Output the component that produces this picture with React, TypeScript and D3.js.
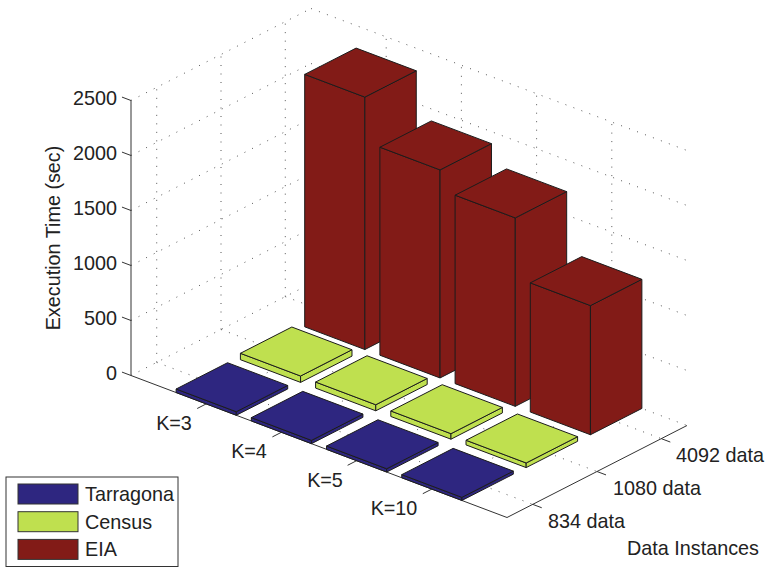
import React from "react";
import * as d3 from "d3";

const kLabels = ["K=3", "K=4", "K=5", "K=10"];
const dataLabels = ["834 data", "1080 data", "4092 data"];
const seriesNames = ["Tarragona", "Census", "EIA"];
const seriesColors = ["#2e2680", "#bfe04f", "#821b17"];

const tarragona = [32, 30, 30, 28];
const census = [58, 55, 50, 42];
const eia = [2295, 1891, 1713, 1174];
const seriesValues = [tarragona, census, eia];

const zTicks = [0, 500, 1000, 1500, 2000, 2500];
const barWidth = 0.8;
const font = "'Liberation Sans', Arial, sans-serif";
const ink = "#222";

// oblique projection: every axis is a screen vector added to the floor corner
const origin: [number, number] = [131, 375.5];
const xDx = d3.scaleLinear().domain([0, 5]).range([0, 376]);
const xDy = d3.scaleLinear().domain([0, 5]).range([0, 142]);
const yDx = d3.scaleLinear().domain([0.6, 3.4]).range([0, 180]);
const yDy = d3.scaleLinear().domain([0.6, 3.4]).range([0, -92]);
const zDy = d3.scaleLinear().domain([0, 2500]).range([0, -275]);

const project = (x: number, y: number, z: number): [number, number] => [
  origin[0] + xDx(x) + yDx(y),
  origin[1] + xDy(x) + yDy(y) + zDy(z),
];

const line = d3.line();
const seg = (a: [number, number, number], b: [number, number, number]) =>
  line([project(...a), project(...b)]) as string;
const poly = (pts: [number, number, number][]) =>
  (line(pts.map((p) => project(...p))) as string) + "Z";

const xMin = 0;
const xMax = 5;
const yMin = 0.6;
const yMax = 3.4;
const zMax = 2500;

const kPositions = kLabels.map((_, i) => i + 1);
const dataPositions = dataLabels.map((_, i) => i + 1);

// far bars first so nearer ones paint over them
const bars = dataPositions
  .slice()
  .reverse()
  .flatMap((y) =>
    kPositions.map((x) => ({
      x,
      y,
      value: seriesValues[y - 1][x - 1],
      color: seriesColors[y - 1],
    }))
  );

const kLabelPos = [
  [174, 423],
  [249, 451],
  [325, 480],
  [394, 508],
];
const dataLabelPos = [
  [548, 521],
  [613, 488],
  [676, 455],
];
const zLabelX = 117;

function Bar({ x, y, value, color }: { x: number; y: number; value: number; color: string }) {
  const h = barWidth / 2;
  const x0 = x - h;
  const x1 = x + h;
  const y0 = y - h;
  const y1 = y + h;
  const faces = [
    poly([[x0, y0, 0], [x1, y0, 0], [x1, y0, value], [x0, y0, value]]),
    poly([[x1, y0, 0], [x1, y1, 0], [x1, y1, value], [x1, y0, value]]),
    poly([[x0, y0, value], [x1, y0, value], [x1, y1, value], [x0, y1, value]]),
  ];
  return (
    <g fill={color} stroke="#1c1c1c" strokeWidth={1} strokeLinejoin="round">
      {faces.map((d, i) => (
        <path key={i} d={d} />
      ))}
    </g>
  );
}

export default function App() {
  const dots = { stroke: "#555", strokeWidth: 1, strokeDasharray: "1 7.5", fill: "none" };
  const axisLine = { stroke: "#333", strokeWidth: 1, fill: "none" };
  const text = { fontFamily: font, fontSize: 19.8, fill: ink };
  return (
    <svg
      width={768}
      height={567}
      style={{ position: "absolute", left: 0, top: 0, background: "#fff" }}
    >
      {/* walls and floor grid */}
      <g {...dots}>
        {zTicks.map((z) => (
          <g key={z}>
            <path d={seg([xMin, yMin, z], [xMin, yMax, z])} />
            <path d={seg([xMin, yMax, z], [xMax, yMax, z])} />
          </g>
        ))}
        {dataPositions.map((y) => (
          <g key={y}>
            <path d={seg([xMin, y, 0], [xMin, y, zMax])} />
            <path d={seg([xMin, y, 0], [xMax, y, 0])} />
          </g>
        ))}
        {kPositions.map((x) => (
          <g key={x}>
            <path d={seg([x, yMax, 0], [x, yMax, zMax])} />
            <path d={seg([x, yMin, 0], [x, yMax, 0])} />
          </g>
        ))}
      </g>

      {/* axes and ticks */}
      <g {...axisLine}>
        <path d={seg([xMin, yMin, 0], [xMin, yMin, zMax])} />
        <path d={seg([xMin, yMin, 0], [xMax, yMin, 0])} />
        <path d={seg([xMax, yMin, 0], [xMax, yMax, 0])} />
        {zTicks.map((z) => (
          <path key={z} d={seg([xMin, yMin, z], [xMin - 0.12, yMin, z])} />
        ))}
        {kPositions.map((x) => (
          <path key={x} d={seg([x, yMin, 0], [x, yMin - 0.14, 0])} />
        ))}
        {dataPositions.map((y) => (
          <path key={y} d={seg([xMax, y, 0], [xMax + 0.12, y, 0])} />
        ))}
      </g>

      {bars.map((b) => (
        <Bar key={`${b.x}-${b.y}`} {...b} />
      ))}

      {/* tick labels */}
      <g {...text}>
        {zTicks.map((z) => (
          <text
            key={z}
            x={zLabelX}
            y={project(xMin, yMin, z)[1] - 3}
            textAnchor="end"
            dominantBaseline="central"
          >
            {z}
          </text>
        ))}
        {kLabels.map((k, i) => (
          <text
            key={k}
            x={kLabelPos[i][0]}
            y={kLabelPos[i][1]}
            textAnchor="middle"
            dominantBaseline="central"
          >
            {k}
          </text>
        ))}
        {dataLabels.map((d, i) => (
          <text key={d} x={dataLabelPos[i][0]} y={dataLabelPos[i][1]} dominantBaseline="central">
            {d}
          </text>
        ))}
        <text x={627} y={548} dominantBaseline="central">
          Data Instances
        </text>
        <text
          transform="translate(53,238) rotate(-90)"
          textAnchor="middle"
          dominantBaseline="central"
        >
          Execution Time (sec)
        </text>
      </g>

      {/* legend */}
      <g>
        <rect x={6} y={477} width={172} height={89.5} fill="#fff" stroke="#333" strokeWidth={1} />
        {seriesNames.map((name, i) => (
          <g key={name}>
            <rect
              x={18}
              y={484 + i * 27.7}
              width={60}
              height={20}
              fill={seriesColors[i]}
              stroke="#333"
              strokeWidth={1}
            />
            <text {...text} x={85} y={494 + i * 27.7} dominantBaseline="central">
              {name}
            </text>
          </g>
        ))}
      </g>
    </svg>
  );
}
